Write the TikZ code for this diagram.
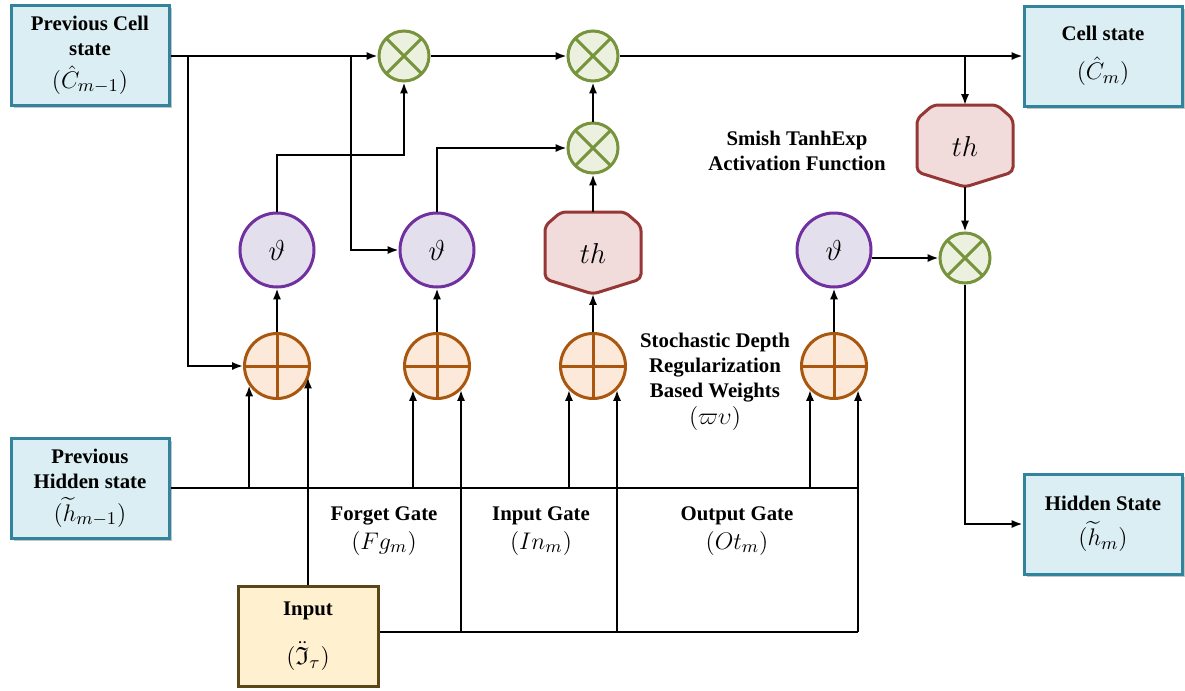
\documentclass[tikz,border=0pt]{standalone}
\usepackage{amsmath,amssymb}
\usepackage{fontspec}
\setmainfont{Liberation Serif}
\usetikzlibrary{arrows.meta,shadows,backgrounds}
\definecolor{boxline}{HTML}{31849B}
\definecolor{boxfill}{HTML}{DBEEF4}
\definecolor{inline}{HTML}{5A4718}
\definecolor{infill}{HTML}{FFF0CF}
\definecolor{mulline}{HTML}{77933C}
\definecolor{mulfill}{HTML}{EBF1DE}
\definecolor{sigline}{HTML}{7030A0}
\definecolor{sigfill}{HTML}{E4DFEC}
\definecolor{addline}{HTML}{A9560E}
\definecolor{addfill}{HTML}{FDE9D9}
\definecolor{thline}{HTML}{953735}
\definecolor{thfill}{HTML}{F2DCDB}
\newcommand{\mfont}{\fontsize{12.5}{15}\selectfont}

\begin{document}
\begin{tikzpicture}[x=0.5pt, y=-0.5pt, >={Latex[length=1.9mm]}, line width=1pt,
	lbl/.style={font=\bfseries\fontsize{10.4}{12.5}\selectfont, align=center},
	stbox/.style={lbl, draw=boxline, fill=boxfill, line width=1.5pt, minimum width=79pt, minimum height=50pt, drop shadow={shadow xshift=1.5pt, shadow yshift=-1.5pt, fill=black!45}},
	inbox/.style={lbl, draw=inline, fill=infill, line width=1.5pt, minimum width=70pt, minimum height=50pt},
	mul/.style={circle, draw=mulline, fill=mulfill, line width=1.5pt, minimum size=25pt, inner sep=0pt,
		path picture={\draw[mulline, line width=1.5pt] (path picture bounding box.north west) -- (path picture bounding box.south east) (path picture bounding box.north east) -- (path picture bounding box.south west);}},
	add/.style={circle, draw=addline, fill=addfill, line width=1.5pt, minimum size=32.5pt, inner sep=0pt,
		path picture={\draw[addline, line width=1.5pt] (path picture bounding box.north) -- (path picture bounding box.south) (path picture bounding box.east) -- (path picture bounding box.west);}},
	sig/.style={circle, draw=sigline, fill=sigfill, line width=1.5pt, minimum size=37pt, inner sep=0pt, font=\fontsize{15}{17}\selectfont},
	thnode/.style={minimum width=47pt, minimum height=40pt, inner sep=0pt, font=\fontsize{14.5}{16}\selectfont}]
	\useasboundingbox (0,0) rectangle (1185,691);
	% state boxes
	\node[stbox] (pcell) at (90,55) {Previous Cell\\state\\[4pt]{\mfont$(\hat{C}_{m-1})$}};
	\node[stbox] (phid) at (90,488) {Previous\\Hidden state\\[4pt]{\mfont$(\widetilde{h}_{m-1})$}};
	\node[stbox] (cell) at (1103,56) {Cell state\\[7pt]{\mfont$(\hat{C}_{m})$}};
	\node[stbox] (hid) at (1103,524) {Hidden State\\[5pt]{\mfont$(\widetilde{h}_{m})$}};
	\node[inbox] (inp) at (308,636) {Input\\[10pt]{\mfont$(\ddot{\mathfrak{I}}_{\tau})$}};
	% operators
	\node[mul] (m1) at (404,56) {};
	\node[mul] (m2) at (593,56) {};
	\node[mul] (m3) at (593,148) {};
	\node[mul] (m4) at (965,258) {};
	\foreach \n/\x in {s1/277, s2/437, s3/834} {\node[sig] (\n) at (\x,250) {$\vartheta$};}
	\foreach \n/\x in {a1/277, a2/437, a3/593, a4/834} {\node[add] (\n) at (\x,366) {};}
	\node[thnode] (th1) at (593,253) {$th$};
	\node[thnode] (th2) at (965,146) {$th$};
	\begin{scope}[on background layer]
		\foreach \n in {th1,th2}
		\filldraw[draw=thline, fill=thfill, line width=1.5pt, rounded corners=2.5pt] ([yshift=-7pt]\n.north west) -- ([xshift=8pt]\n.north west) -- ([xshift=-8pt]\n.north east) -- ([yshift=-7pt]\n.north east) -- ([yshift=7.5pt]\n.south east) -- (\n.south) -- ([yshift=7.5pt]\n.south west) -- cycle;
	\end{scope}
	% labels
	\node[lbl] (smish) at (797,151) {Smish TanhExp\\Activation Function};
	\node[lbl] (sdr) at (715,382) {Stochastic Depth\\Regularization\\Based Weights\\[1pt]{\mfont$(\varpi\upsilon)$}};
	\node[lbl] (fg) at (384,531) {Forget Gate\\[2pt]{\mfont$(Fg_m)$}};
	\node[lbl] (ig) at (541,531) {Input Gate\\[2pt]{\mfont$(In_m)$}};
	\node[lbl] (og) at (737,531) {Output Gate\\[2pt]{\mfont$(Ot_m)$}};
	% cell state path
	\coordinate (j1) at (188,56);
	\coordinate (j2) at (351,56);
	\draw[->] (pcell.east |- m1.west) -- (m1.west);
	\draw[->] (m1.east) -- (m2.west);
	\draw[->] (m2.east) -- (cell.west);
	\draw[->] (j1) |- (a1.west);
	\draw[->] (j2) |- (s2.west);
	\draw[->] (th2.north |- m2.east) -- (th2.north);
	\draw[->] (th2.south) -- (m4.north);
	\draw[->] (s3.-12) -- (s3.-12 -| m4.west);
	\draw[->] (m4.south) |- (hid.west);
	% gates
	\foreach \a/\s in {a1/s1, a2/s2, a4/s3} {\draw[->] (\a.north) -- (\s.south);}
	\draw[->] (a3.north) -- (th1.south);
	\draw[->] (th1.north) -- (m3.south);
	\draw[->] (m3.north) -- (m2.south);
	\draw[->] (s1.north) -- ++(0,-57) -| (m1.south);
	\draw[->] (s2.north) |- (m3.west);
	% hidden state and input lines
	\coordinate (iline) at ([yshift=2pt]inp.east);
	\draw (phid.east) -- (a4.-45 |- phid.east);
	\foreach \a/\g in {a1/-145, a2/-135, a3/-135, a4/-135} {\draw[->] (\a.\g |- phid.east) -- (\a.\g);}
	\draw (iline) -- (a4.-45 |- iline);
	\foreach \a in {a2,a3,a4} {\draw[->] (\a.-45 |- iline) -- (\a.-45);}
	\draw[->] (inp.north) -- (inp.north |- a1.-20);
\end{tikzpicture}
\end{document}
